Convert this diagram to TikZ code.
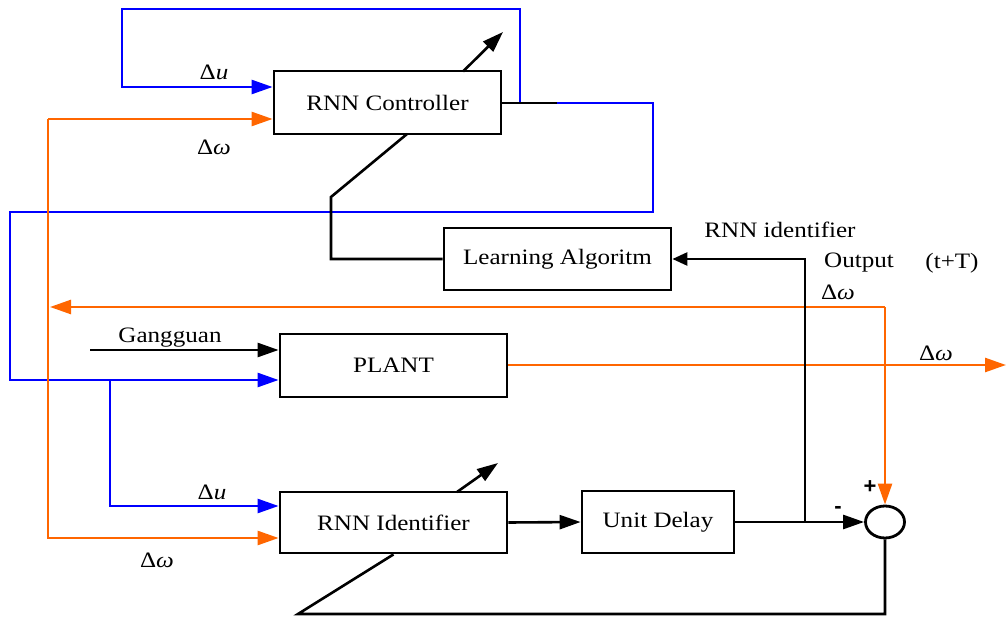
\documentclass[tikz,border=0pt]{standalone}
\usepackage{fontspec}
\setmainfont{Liberation Serif}[FakeStretch=1.14]
\newfontfamily\sansf{Liberation Sans}
\usetikzlibrary{arrows.meta,shapes.geometric}
\definecolor{myblue}{RGB}{0,0,255}
\definecolor{myorange}{RGB}{255,102,0}
\begin{document}
\begin{tikzpicture}[x=1pt,y=-1pt,line width=2.6pt,
  font=\fontsize{22}{26}\selectfont,
  box/.style={draw,line width=2.8pt,inner sep=0pt,minimum width=#1},
  arr/.style={-{Triangle[length=21pt,width=14pt]}},
  sarr/.style={-{Triangle[length=15pt,width=13pt]}},
  bl/.style={draw=myblue},
  org/.style={draw=myorange,color=myorange},
  lab/.style={inner sep=0pt}]
\useasboundingbox (0,0) rectangle (1006,617);

% blocks
\node[box=227pt,minimum height=63pt] (ctrl) at (387.5,102.5) {RNN Controller};
\node[box=227pt,minimum height=62pt] (learn) at (557.5,259) {Learning Algoritm};
\node[box=227pt,minimum height=63pt] (plant) at (393.5,365.5) {PLANT};
\node[box=227pt,minimum height=61pt] (ident) at (393.5,522.5) {RNN Identifier};
\node[box=152pt,minimum height=62pt] (delay) at (658,522) {Unit Delay};
\node[draw,ellipse,line width=2.8pt,inner sep=0pt,minimum width=39pt,minimum height=32pt] (sum) at (885,522) {};

% coordinates
\coordinate (cj) at (520,103);
\coordinate (cr) at (557,103);
\coordinate (ut) at (122,87);
\coordinate (pu) at (10,380);
\coordinate (bj) at (110,380);
\coordinate (bk) at (110,506);
\coordinate (oj) at (48,119);
\coordinate (ok) at (48,538);
\coordinate (fo) at (885,307);
\coordinate (fl) at (50,307);
\coordinate (po) at (507,365);
\coordinate (out) at (1006,365);
\coordinate (g0) at (90,350);
\coordinate (ca) at (463,71.5);
\coordinate (ca2) at (503,32);
\coordinate (ia) at (457,492);
\coordinate (ia2) at (498,463);
\coordinate (cb) at (407,134);
\coordinate (dj) at (805,522);

% blue connectors
\draw[bl,arr] (cj) -- (520,9) -- (122,9) -- (ut) -- (ctrl.west |- ut);
\draw (ctrl.east |- cr) -- (cr);
\draw[bl,arr] (cr) -- (653,103) -- (653,212) -- (10,212) -- (pu) -- (plant.west |- pu);
\draw[bl,arr] (bj) -- (bk) -- (ident.west |- bk);

% orange connectors
\draw[org,arr] (oj) -- (ctrl.west |- oj);
\draw[org,arr] (oj) -- (ok) -- (ident.west |- ok);
\draw[org,arr] (fo) -- (fl);
\draw[org,arr] (fo) -- (sum.north);
\draw[org,arr] (plant.east |- po) -- (out);

% black connectors
\draw[arr] (g0) -- (plant.west |- g0);
\draw[arr] (ca) -- (ca2);
\draw[arr] (ia) -- (ia2);
\draw (cb) -- (331,197) -- (331,259) -- (learn.west);
\draw[sarr] (dj) -- (805,259) -- (learn.east);
\draw[arr] (ident.east) -- (delay.west);
\draw[arr] (delay.east) -- (sum.west);
\draw (sum.south) -- (885,614) -- (298,614) -- (ident.south);

% labels
\node[lab] (l1) at (214,72) {Δ\textit{u}};
\node[lab] (l2) at (214,147) {Δ\textit{ω}};
\node[lab] (l3) at (212,492) {Δ\textit{u}};
\node[lab] (l4) at (157,560) {Δ\textit{ω}};
\node[lab] (l5) at (838,292) {Δ\textit{ω}};
\node[lab] (l6) at (936,353) {Δ\textit{ω}};
\node[lab] (l7) at (170,338) {Gangguan};
\node[lab] (l8) at (780,230) {RNN identifier};
\node[lab] (l9) at (859,263) {Output};
\node[lab] (l10) at (952,263) {(t+T)};
\node[lab,font=\sansf\fontsize{22}{26}\bfseries] (l11) at (870,487) {+};
\node[lab,font=\sansf\fontsize{22}{26}\bfseries] (l12) at (838,510) {-};
\end{tikzpicture}
\end{document}
